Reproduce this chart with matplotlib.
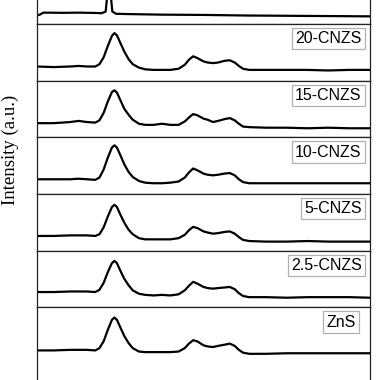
"""Stacked XRD patterns: g-C3N4, x-CNZS composites and ZnS"""
import matplotlib; matplotlib.use("Agg")
import matplotlib.pyplot as plt

# 2-theta grid (deg) used for the ZnS-type patterns
tth = [10, 14, 18, 20, 22, 24, 25, 26, 27, 28, 28.6, 29.2, 30, 31, 32, 33, 34.5, 36, 38, 40,
       42, 44, 45.5, 46.5, 47.5, 48.5, 50, 51, 52.3, 53.5, 55, 56.3, 57.5, 58.5, 59.5, 61,
       65, 70, 75, 80, 85, 90]

# intensities (a.u., 0-100 per panel)
i_20 = [25, 24, 25, 26, 25, 25, 29, 41, 61, 79, 84, 80, 67, 51, 38, 29, 23, 20, 19, 19,
        19, 21, 28, 37, 43, 40, 34, 32, 31, 32, 35, 36, 32, 26, 21, 19,
        19, 19, 19, 18, 19, 19]
i_15 = [25, 25, 27, 29, 27, 26, 30, 43, 63, 80, 83, 79, 66, 50, 40, 31, 24, 22, 22, 24,
        22, 22, 28, 35, 41, 39, 33, 31, 27, 29, 32, 34, 30, 24, 19, 18,
        17, 17, 16, 17, 16, 16]
i_10 = [26, 26, 26, 27, 26, 25, 29, 43, 64, 82, 86, 82, 69, 52, 39, 30, 23, 20, 19, 19,
        20, 22, 29, 38, 45, 42, 36, 34, 33, 34, 36, 37, 33, 26, 21, 19,
        19, 19, 19, 19, 19, 19]
i_5 = [26, 26, 27, 27, 27, 26, 29, 41, 60, 77, 81, 77, 64, 49, 37, 29, 22, 20, 20, 20,
       20, 22, 28, 36, 42, 40, 34, 32, 30, 31, 33, 34, 30, 24, 19, 17,
       16, 16, 17, 16, 16, 16]
i_25 = [27, 27, 28, 28, 28, 27, 31, 43, 62, 78, 82, 78, 65, 50, 39, 30, 24, 22, 21, 22,
        21, 23, 30, 38, 45, 42, 36, 34, 33, 34, 35, 36, 32, 25, 20, 18,
        18, 17, 18, 18, 18, 17]
i_zns = [24, 24, 25, 25, 25, 24, 28, 40, 60, 78, 82, 78, 65, 49, 37, 28, 22, 21, 21, 21,
         21, 22, 28, 36, 42, 40, 33, 31, 30, 32, 34, 36, 32, 25, 20, 18,
         18, 19, 19, 19, 19, 19]

# g-C3N4 (top panel, mostly cut off)
tth_cn = [10, 10.8, 11.5, 13, 16, 20, 24, 25.5, 26.5, 27.0, 27.3, 27.6, 28.1, 29, 32, 40, 50, 60, 70, 80, 90]
i_cn = [15, 17, 20, 20, 19.7, 20, 19.5, 19, 22, 60, 200, 60, 22, 18, 17.5, 16.5, 16, 15, 14.5, 14, 13.5]

# top panel label is cut off in the picture, so it is left blank
labels = ["", "20-CNZS", "15-CNZS", "10-CNZS", "5-CNZS", "2.5-CNZS", "ZnS"]
series = [(tth_cn, i_cn), (tth, i_20), (tth, i_15), (tth, i_10), (tth, i_5), (tth, i_25), (tth, i_zns)]

W = 380.0
fig = plt.figure(figsize=(3.8, 3.8), dpi=100)
left, width, ph = 37 / W, 333 / W, 56.67
for k, ((x, y), lab) in enumerate(zip(series, labels)):
    top_px = -32.67 + ph * k
    h = ph * (2 if k == 6 else 1)          # bottom panel runs off the picture
    ax = fig.add_axes([left, 1 - (top_px + h) / W, width, h / W])
    ax.plot(x, y, color="black", lw=1.6)
    ax.set_xlim(10, 90)
    ax.set_ylim(-100 if k == 6 else 0, 100)
    ax.set_xticks([]); ax.set_yticks([])
    for s in ax.spines.values():
        s.set_linewidth(0.9); s.set_color("#222222")
    if not lab:
        continue
    box = dict(boxstyle="square,pad=0.2", fc="white", ec="#b0b0b0", lw=0.9)
    xr = 0.957 if k == 6 else 0.975
    yt = 1 - 7.2 / ph if k < 6 else 1 - 7.2 / h
    ax.text(xr, yt, lab, ha="right", va="top", transform=ax.transAxes,
            fontsize=11.5, family="Liberation Sans", bbox=box)

fig.text(10 / W, 1 - 150 / W, "Intensity (a.u.)", rotation=90, ha="center", va="center",
         fontsize=13.5, family="Liberation Serif")

plt.savefig("out.png", dpi=100)
plt.close()
